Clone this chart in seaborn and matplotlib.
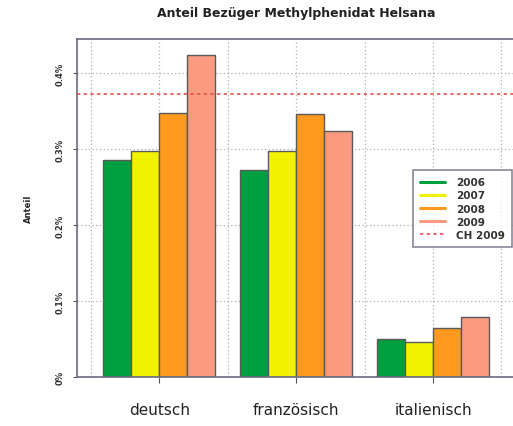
import matplotlib
matplotlib.use("Agg")
import matplotlib.pyplot as plt
from matplotlib.lines import Line2D
import seaborn as sns
import pandas as pd

regions = ["deutsch", "französisch", "italienisch"]
years = ["2006", "2007", "2008", "2009"]
v2006 = [0.285, 0.272, 0.050]
v2007 = [0.298, 0.298, 0.046]
v2008 = [0.347, 0.346, 0.064]
v2009 = [0.424, 0.323, 0.079]
ch2009 = 0.372
yticks = [0.0, 0.1, 0.2, 0.3, 0.4]
ytick_labels = ["0%", "0.1%", "0.2%", "0.3%", "0.4%"]
colors = ["#00A040", "#F2F200", "#FF9A1E", "#FA9A80"]
ch_color = "#E8504A"

rows = []
for y, vals in zip(years, [v2006, v2007, v2008, v2009]):
    for r, v in zip(regions, vals):
        rows.append({"Region": r, "Jahr": y, "Anteil": v})
df = pd.DataFrame(rows)

sns.set_style("white")
fig = plt.figure(figsize=(5.13, 4.27), dpi=100)
ax = fig.add_axes([77/513, 49/427, 445/513, 338/427])

# grid
for yv in yticks[1:]:
    ax.axhline(yv, color="#B0B0B0", linestyle=(0, (1, 2)), linewidth=0.9, zorder=0)
for xv in [-0.5, 0, 0.5, 1, 1.5, 2, 2.5]:
    ax.axvline(xv, color="#B0B0B0", linestyle=(0, (1, 2)), linewidth=0.9, zorder=0)

sns.barplot(data=df, x="Region", y="Anteil", hue="Jahr", hue_order=years,
            order=regions, palette=colors, width=0.82, gap=0,
            edgecolor="#5A5A5A", linewidth=1.0, saturation=1, ax=ax,
            legend=False, zorder=2)

ax.axhline(ch2009, color=ch_color, linestyle=(0, (2, 2)), linewidth=1.2, zorder=3)

ax.set_xlim(-0.6, 2.65)
ax.set_ylim(0, 0.4447)
ax.set_yticks(yticks)
ax.set_yticklabels(ytick_labels, rotation=90, va="center", fontsize=6,
                   fontweight="bold", color="#333333")
ax.tick_params(axis="y", length=3, width=0.8, pad=6, left=True, color="#555555")
ax.tick_params(axis="x", length=4, width=0.8, pad=14, bottom=True, labelsize=11,
               color="#555555")
for lbl in ax.get_xticklabels():
    lbl.set_color("#222222")
ax.set_xlabel("")
ax.set_ylabel("Anteil", fontsize=6, fontweight="bold", labelpad=16)

for s in ["left", "top", "bottom"]:
    ax.spines[s].set_color("#6A6A80")
    ax.spines[s].set_linewidth(1.2)
ax.spines["right"].set_visible(False)

fig.text(296/513, 1 - 14/427, "Anteil Bezüger Methylphenidat Helsana",
         ha="center", va="center", fontsize=9, fontweight="heavy", color="#222222")

handles = [Line2D([0], [0], color=c, linewidth=2.2) for c in colors]
handles.append(Line2D([0], [0], color=ch_color, linestyle=(0, (2, 2)), linewidth=1.2))
leg = fig.legend(handles, years + ["CH 2009"], loc="upper left",
                 bbox_to_anchor=(413/513, 1 - 171/427), fontsize=7.5,
                 frameon=True, fancybox=False, handlelength=2.4,
                 labelspacing=0.3, borderpad=0.7, handletextpad=1.0,
                 borderaxespad=0)
leg.get_frame().set_edgecolor("#6A6A80")
leg.get_frame().set_linewidth(1.2)
for t in leg.get_texts():
    t.set_fontweight("bold")
    t.set_color("#333333")

fig.savefig("out.png", dpi=100)
